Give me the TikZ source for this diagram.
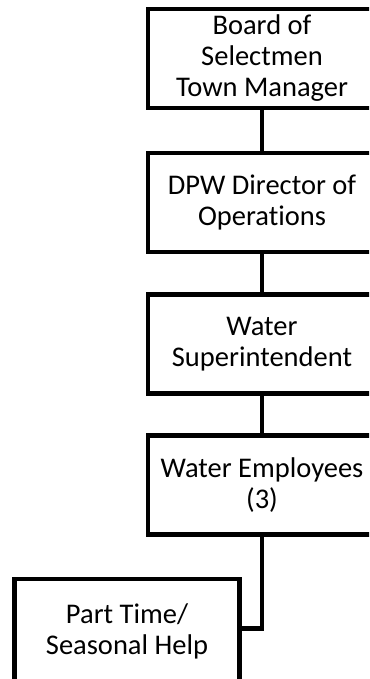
\documentclass[tikz,border=0pt]{standalone}
\usepackage{fontspec}
\setmainfont{Carlito}[Ligatures=NoCommon]
\begin{document}
\begin{tikzpicture}[x=1pt,y=1pt,
  orgbox/.style={draw=black, line width=4.5pt, fill=white, minimum width=228pt,
    minimum height=99pt, align=center, inner sep=0pt,
    font=\fontsize{28.5}{31}\selectfont},
  link/.style={draw=black, line width=4.5pt}]
\useasboundingbox (0,0) rectangle (369,-679);
\clip (0,0) rectangle (369,-679);
\fill[white] (0,0) rectangle (369,-679);
\node[orgbox] (b1) at (262,-58.5) {Board of\\Selectmen\\Town Manager};
\node[orgbox] (b2) at (262,-202.5) {DPW Director of\\Operations};
\node[orgbox] (b3) at (262,-344) {Water\\Superintendent};
\node[orgbox] (b4) at (262,-485) {Water Employees\\(3)};
\node[orgbox, minimum width=225pt, minimum height=104pt] (b5) at (127,-631) {Part Time/\\Seasonal Help};
\draw[link] (b1.south) -- (b2.north);
\draw[link] (b2.south) -- (b3.north);
\draw[link] (b3.south) -- (b4.north);
\draw[link, line join=miter] (b4.south) |- ([yshift=2.5pt]b5.east);
\end{tikzpicture}
\end{document}
